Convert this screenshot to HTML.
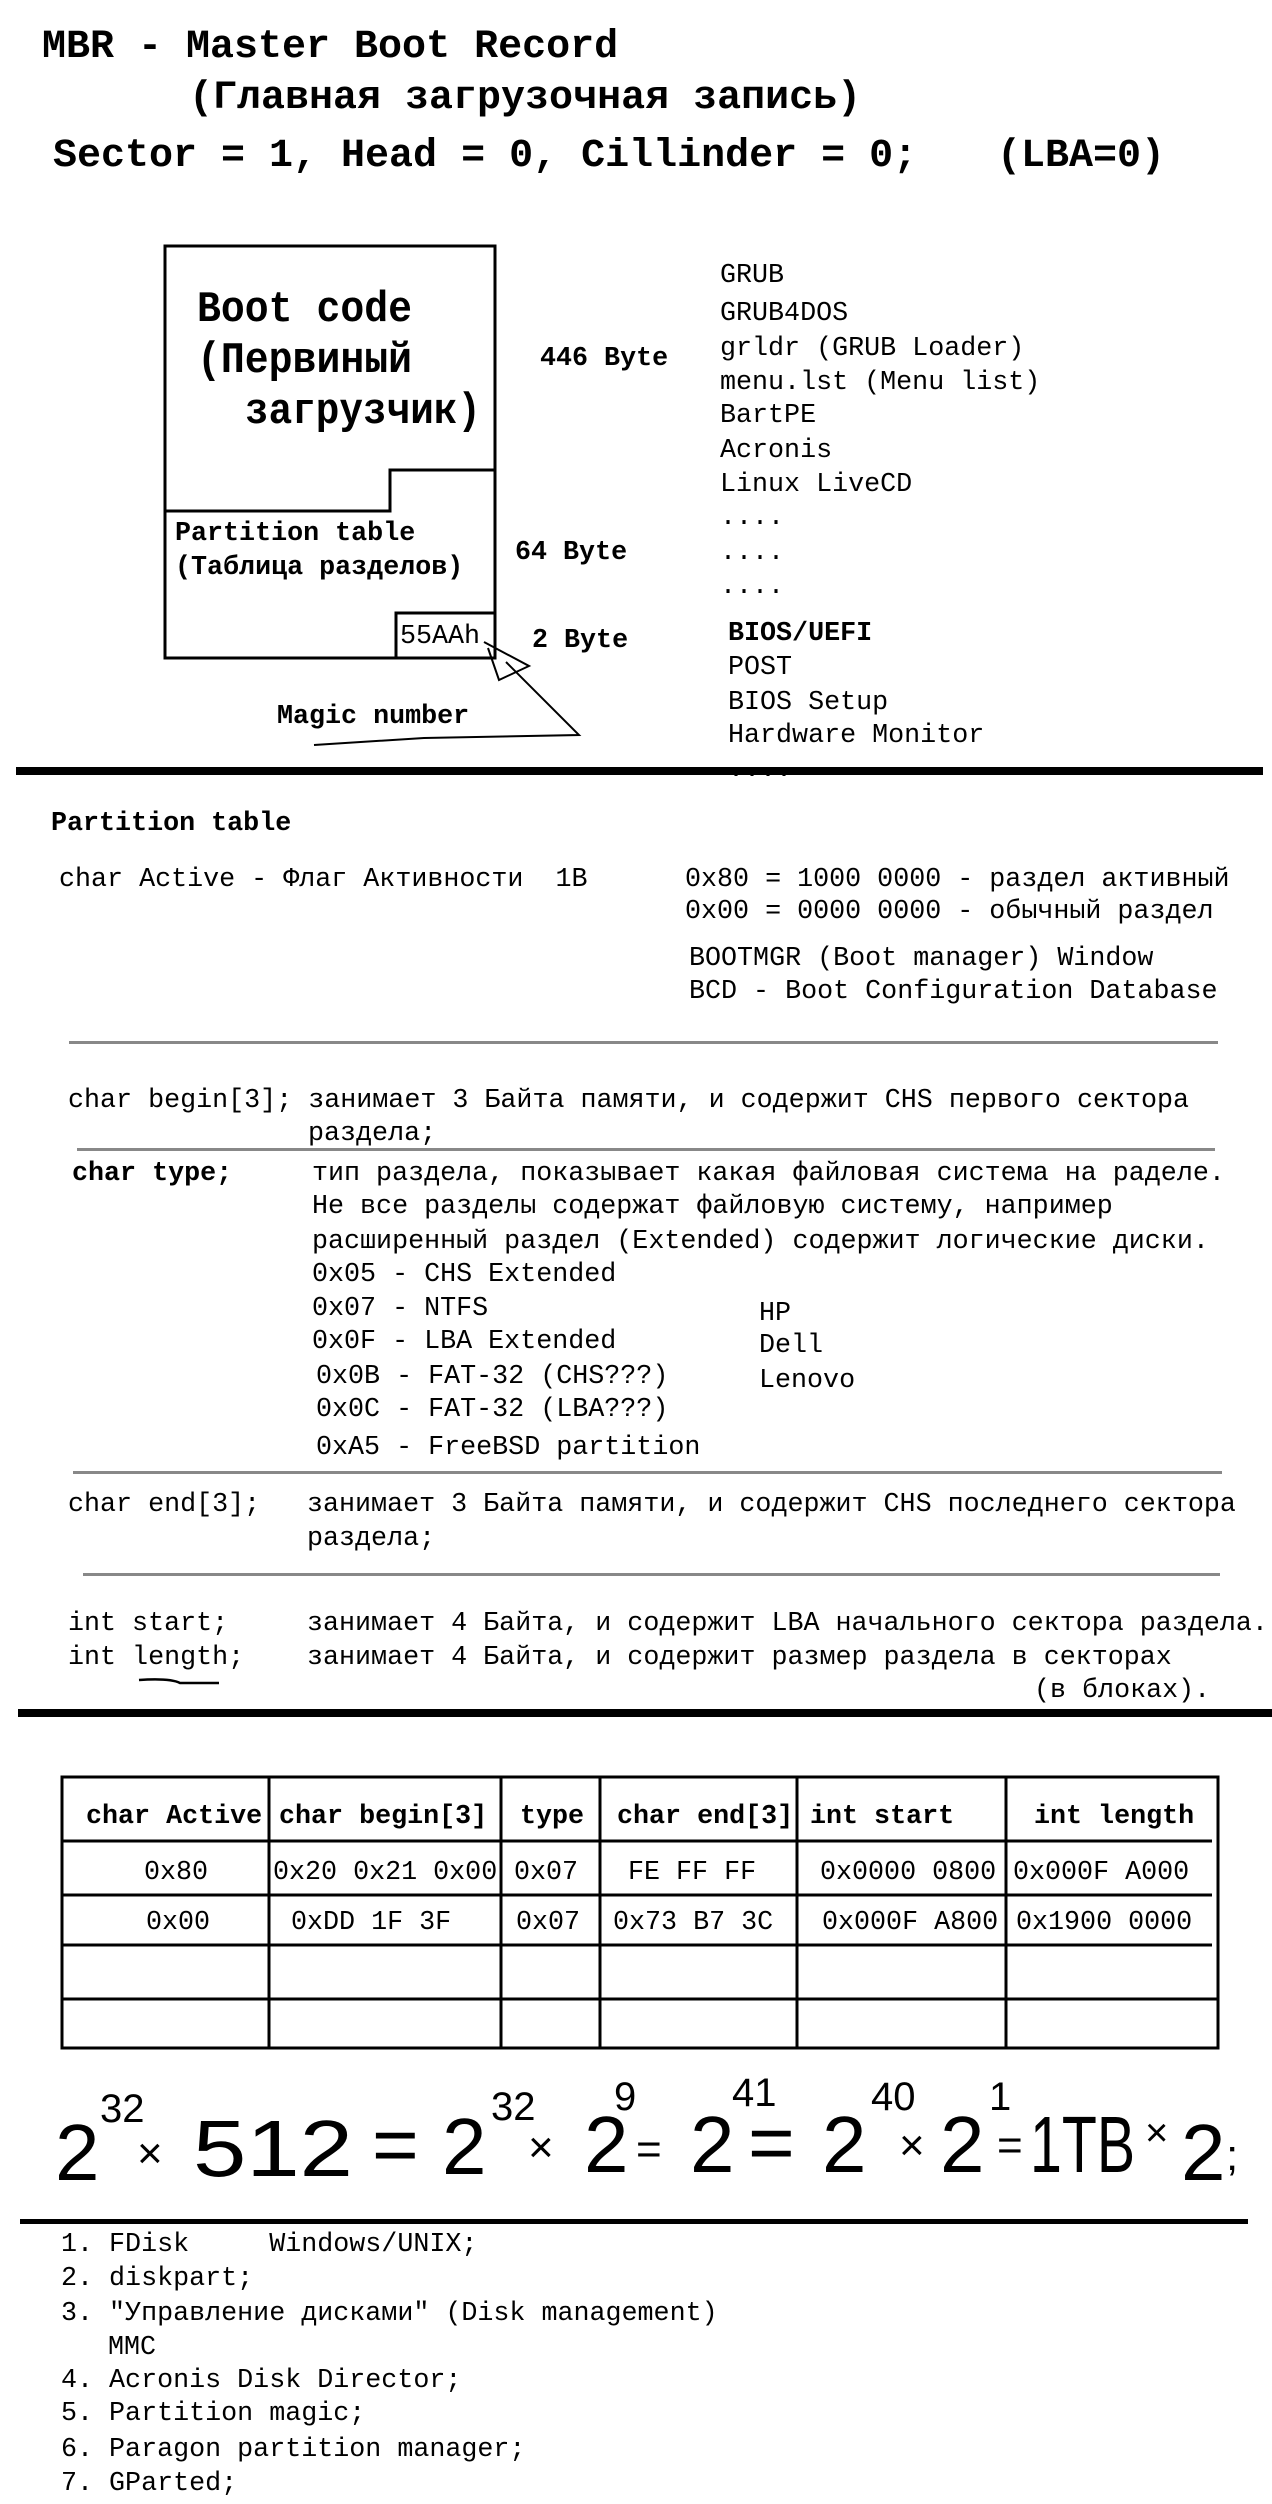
<!DOCTYPE html>
<html><head><meta charset="utf-8"><style>
html,body{margin:0;padding:0;background:#fff;}
svg{display:block;}
text{font-family:"Liberation Mono","DejaVu Sans Mono",monospace;font-size:26.7px;fill:#000;white-space:pre;}
.b{font-weight:bold;}
.t{font-size:40px;font-weight:bold;}
.bc{font-size:44px;font-weight:bold;}
.h{font-family:"Liberation Sans",sans-serif;font-size:80px;}
.hs{font-family:"Liberation Sans",sans-serif;font-size:40px;}
.hx{font-family:"Liberation Sans",sans-serif;font-size:44px;}
</style></head><body>
<svg width="1272" height="2504" viewBox="0 0 1272 2504" xmlns="http://www.w3.org/2000/svg" xml:space="preserve">
<!-- Titles -->
<text class="t" x="42" y="57">MBR - Master Boot Record</text>
<text class="t" x="189" y="108">(Главная загрузочная запись)</text>
<text class="t" x="53" y="166">Sector = 1, Head = 0, Cillinder = 0;</text>
<text class="t" x="997" y="166">(LBA=0)</text>

<!-- Box diagram -->
<g fill="none" stroke="#000" stroke-width="3">
<rect x="165" y="246" width="330" height="412"/>
<polyline points="495,470 390,470 390,511 165,511"/>
<rect x="396" y="613" width="99" height="45"/>
</g>
<text class="bc" x="197" y="321" textLength="215" lengthAdjust="spacingAndGlyphs">Boot code</text>
<text class="bc" x="197" y="372" textLength="215" lengthAdjust="spacingAndGlyphs">(Первиный</text>
<text class="bc" x="245" y="423" textLength="236" lengthAdjust="spacingAndGlyphs">загрузчик)</text>
<text class="b" x="175" y="540">Partition table</text>
<text class="b" x="175" y="574">(Таблица разделов)</text>
<text x="400" y="643">55AAh</text>
<text class="b" x="540" y="365">446 Byte</text>
<text class="b" x="515" y="559">64 Byte</text>
<text class="b" x="532" y="647">2 Byte</text>

<text x="720" y="282">GRUB</text>
<text x="720" y="320">GRUB4DOS</text>
<text x="720" y="355">grldr (GRUB Loader)</text>
<text x="720" y="389">menu.lst (Menu list)</text>
<text x="720" y="422">BartPE</text>
<text x="720" y="457">Acronis</text>
<text x="720" y="491">Linux LiveCD</text>
<text x="720" y="524">....</text>
<text x="720" y="559">....</text>
<text x="720" y="593">....</text>
<text class="b" x="728" y="640">BIOS/UEFI</text>
<text x="728" y="674">POST</text>
<text x="728" y="709">BIOS Setup</text>
<text x="728" y="742">Hardware Monitor</text>
<text x="728" y="776">....</text>
<text class="b" x="277" y="723">Magic number</text>
<g fill="none" stroke="#000" stroke-width="2">
<polyline points="484,642 529,666 499,680 488,648"/>
<polyline points="506,662 579,735 424,738 314,745"/>
</g>
<rect x="16" y="767" width="1247" height="8" fill="#000"/>

<!-- Partition table description -->
<text class="b" x="51" y="830">Partition table</text>
<text x="59" y="886">char Active - Флаг Активности  1B</text>
<text x="685" y="886">0x80 = 1000 0000 - раздел активный</text>
<text x="685" y="918">0x00 = 0000 0000 - обычный раздел</text>
<text x="689" y="965">BOOTMGR (Boot manager) Window</text>
<text x="689" y="998">BCD - Boot Configuration Database</text>
<rect x="69" y="1041" width="1149" height="3" fill="#888"/>

<text x="68" y="1107">char begin[3]; занимает 3 Байта памяти, и содержит CHS первого сектора</text>
<text x="308" y="1140">раздела;</text>
<rect x="77" y="1148" width="1138" height="3" fill="#888"/>

<text class="b" x="72" y="1180">char type;</text>
<text x="312" y="1180">тип раздела, показывает какая файловая система на раделе.</text>
<text x="312" y="1213">Не все разделы содержат файловую систему, например</text>
<text x="312" y="1248">расширенный раздел (Extended) содержит логические диски.</text>
<text x="312" y="1281">0x05 - CHS Extended</text>
<text x="312" y="1315">0x07 - NTFS</text>
<text x="312" y="1348">0x0F - LBA Extended</text>
<text x="316" y="1383">0x0B - FAT-32 (CHS???)</text>
<text x="316" y="1416">0x0C - FAT-32 (LBA???)</text>
<text x="316" y="1454">0xA5 - FreeBSD partition</text>
<text x="759" y="1320">HP</text>
<text x="759" y="1352">Dell</text>
<text x="759" y="1387">Lenovo</text>
<rect x="73" y="1471" width="1149" height="3" fill="#888"/>

<text x="68" y="1511">char end[3];</text>
<text x="307" y="1511">занимает 3 Байта памяти, и содержит CHS последнего сектора</text>
<text x="307" y="1545">раздела;</text>
<rect x="83" y="1573" width="1137" height="3" fill="#888"/>

<text x="68" y="1630">int start;</text>
<text x="307" y="1630">занимает 4 Байта, и содержит LBA начального сектора раздела.</text>
<text x="68" y="1664">int length;</text>
<text x="307" y="1664">занимает 4 Байта, и содержит размер раздела в секторах</text>
<text x="1034" y="1697">(в блоках).</text>
<path d="M139 1680 Q170 1678 180 1683 L219 1683" fill="none" stroke="#000" stroke-width="2.5"/>
<rect x="18" y="1709" width="1254" height="8" fill="#000"/>

<!-- Table -->
<g fill="none" stroke="#000" stroke-width="3">
<rect x="62" y="1777" width="1156" height="271"/>
<line x1="62" y1="1841" x2="1212" y2="1841"/>
<line x1="62" y1="1895" x2="1212" y2="1895"/>
<line x1="62" y1="1945" x2="1212" y2="1945"/>
<line x1="62" y1="1999" x2="1218" y2="1999"/>
<line x1="269" y1="1777" x2="269" y2="2048"/>
<line x1="501" y1="1777" x2="501" y2="2048"/>
<line x1="600" y1="1777" x2="600" y2="2048"/>
<line x1="797" y1="1777" x2="797" y2="2048"/>
<line x1="1006" y1="1777" x2="1006" y2="2048"/>
</g>
<text class="b" x="86" y="1823">char Active</text>
<text class="b" x="279" y="1823">char begin[3]</text>
<text class="b" x="520" y="1823">type</text>
<text class="b" x="617" y="1823">char end[3]</text>
<text class="b" x="810" y="1823">int start</text>
<text class="b" x="1034" y="1823">int length</text>
<text x="144" y="1879">0x80</text>
<text x="273" y="1879">0x20 0x21 0x00</text>
<text x="514" y="1879">0x07</text>
<text x="628" y="1879">FE FF FF</text>
<text x="820" y="1879">0x0000 0800</text>
<text x="1013" y="1879">0x000F A000</text>
<text x="146" y="1929">0x00</text>
<text x="291" y="1929">0xDD 1F 3F</text>
<text x="516" y="1929">0x07</text>
<text x="613" y="1929">0x73 B7 3C</text>
<text x="822" y="1929">0x000F A800</text>
<text x="1016" y="1929">0x1900 0000</text>

<!-- Equation -->
<text class="h" x="55" y="2180">2</text>
<text class="hs" x="100" y="2122">32</text>
<text class="hx" x="137" y="2168">×</text>
<text class="h" x="193" y="2176" textLength="160" lengthAdjust="spacingAndGlyphs">512</text>
<text class="h" x="372" y="2172">=</text>
<text class="h" x="442" y="2174">2</text>
<text class="hs" x="491" y="2120">32</text>
<text class="hx" x="528" y="2162">×</text>
<text class="h" x="584" y="2172">2</text>
<text class="hs" x="614" y="2110">9</text>
<text class="hx" x="636" y="2164">=</text>
<text class="h" x="690" y="2172">2</text>
<text class="hs" x="732" y="2106">41</text>
<text class="h" x="748" y="2170">=</text>
<text class="h" x="822" y="2172">2</text>
<text class="hs" x="871" y="2110">40</text>
<text class="hx" x="899" y="2160">×</text>
<text class="h" x="940" y="2172">2</text>
<text class="hs" x="989" y="2110">1</text>
<text class="hx" x="997" y="2160">=</text>
<text class="h" x="1030" y="2172" textLength="105" lengthAdjust="spacingAndGlyphs">1TB</text>
<text class="hs" x="1145" y="2146">×</text>
<text class="h" x="1181" y="2180">2</text>
<text class="hx" x="1226" y="2170">;</text>
<rect x="20" y="2219" width="1228" height="5" fill="#000"/>

<!-- List -->
<text x="61" y="2251">1. FDisk     Windows/UNIX;</text>
<text x="61" y="2285">2. diskpart;</text>
<text x="61" y="2320">3. "Управление дисками" (Disk management)</text>
<text x="108" y="2354">MMC</text>
<text x="61" y="2387">4. Acronis Disk Director;</text>
<text x="61" y="2420">5. Partition magic;</text>
<text x="61" y="2456">6. Paragon partition manager;</text>
<text x="61" y="2490">7. GParted;</text>
</svg>
</body></html>
